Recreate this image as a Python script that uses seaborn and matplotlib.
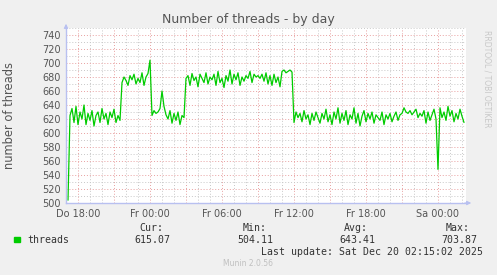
import numpy as np
import pandas as pd
import matplotlib
matplotlib.use("Agg")
import matplotlib.pyplot as plt
from matplotlib.ticker import MultipleLocator, FuncFormatter
import seaborn as sns

# ---- data (10-minute samples starting Thu 17:10) ----
start_hour = 17 + 10 / 60.0
step_hours = 10 / 60.0
seg_a = [504, 625, 635, 615, 638, 612, 630, 620, 640, 612, 628, 618, 632, 610,
         625, 630, 615, 635, 620, 628, 612, 630, 622, 634, 615, 625, 618]
seg_b = [672, 680, 675, 668, 682, 676, 684, 670, 678, 672, 686, 668, 680, 685, 704]
seg_c = [625, 632, 628, 630, 635, 660, 638, 626, 620, 632, 614, 628, 618, 630,
         612, 625, 622]
seg_d = [678, 682, 668, 685, 675, 680, 666, 684, 678, 672, 686, 670, 680, 676,
         684, 668, 688, 672, 678, 665, 682, 674, 690, 670, 684, 676, 686, 668,
         680, 674, 682, 678, 688, 672, 684, 680, 682, 678, 684, 674, 686, 670,
         682, 668, 684, 672, 680, 666, 688, 690, 686, 688, 690, 687]
seg_e = [615, 630, 622, 628, 616, 632, 620, 626, 612, 628, 618, 630, 622, 614,
         628, 620, 634, 616, 626, 612, 630, 620, 636, 614, 628, 618, 632, 612,
         626, 620, 636, 614, 628, 610, 624, 632, 616, 628, 620, 630, 614, 626,
         622, 618, 630, 612, 626, 620, 628, 616, 624, 630, 618, 626, 628, 636,
         630, 628, 632, 626, 630, 634, 622, 628, 624, 632, 614, 630, 618, 626,
         634, 620, 548, 636, 622, 630, 618, 638, 624, 632, 616, 628, 620, 634,
         624, 615]
values = seg_a + seg_b + seg_c + seg_d + seg_e
hours = start_hour + step_hours * np.arange(len(values))
df = pd.DataFrame({"hour": hours, "threads": values})

day_names = ["Do", "Fr", "Sa"]
series_name = "threads"
legend_heads = ["Cur:", "Min:", "Avg:", "Max:"]
legend_vals = ["615.07", "504.11", "643.41", "703.87"]
title = "Number of threads - by day"
ylabel = "number of threads"
last_update = "Last update: Sat Dec 20 02:15:02 2025"
footer = "Munin 2.0.56"
side_text = "RRDTOOL / TOBI OETIKER"

# ---- figure ----
sns.set_style("white")
plt.rcParams["font.family"] = ["DejaVu Sans"]
W, H = 497, 275
fig = plt.figure(figsize=(W / 100, H / 100), dpi=100, facecolor="#F0F0F0")
ax = fig.add_axes([66 / W, 72 / H, 400 / W, 175 / H])
ax.set_facecolor("white")

sns.lineplot(data=df, x="hour", y="threads", ax=ax, color="#00CC00",
             linewidth=0.9, legend=False)

ax.set_xlim(17, 17 + 400 / 12)
ax.set_ylim(500, 750)

ax.xaxis.set_major_locator(MultipleLocator(3))
ax.xaxis.set_minor_locator(MultipleLocator(1))
ax.yaxis.set_major_locator(MultipleLocator(20))
ax.yaxis.set_minor_locator(MultipleLocator(10))


def xfmt(v, pos):
    h = int(round(v))
    if h % 6 != 0:
        return ""
    d = h // 24
    return f"{day_names[d]} {h % 24:02d}:00"


ax.xaxis.set_major_formatter(FuncFormatter(xfmt))
ax.yaxis.set_major_formatter(FuncFormatter(lambda v, p: f"{int(v)}" if v < 745 else ""))

ax.grid(which="minor", color="#C8C8C8", linestyle=(0, (1, 2)), linewidth=0.7)
ax.grid(which="major", color="#E8A0A0", linestyle=(0, (1, 2)), linewidth=0.7)
ax.set_axisbelow(True)

ax.tick_params(axis="both", which="major", labelsize=7, labelcolor="#555555",
               length=2, color="#999999", pad=2)
ax.tick_params(axis="both", which="minor", length=1, color="#BBBBBB")
ax.set_xlabel("")
ax.set_ylabel(ylabel, fontsize=8.3, color="#555555")
ax.yaxis.set_label_coords(-50 / 400, 0.5)

for s in ["top", "right"]:
    ax.spines[s].set_visible(False)
for s in ["left", "bottom"]:
    ax.spines[s].set_color("#B8C0F0")
    ax.spines[s].set_linewidth(1.0)

# axis arrows
ax.annotate("", xy=(0, 1.04), xytext=(0, 0.98), xycoords="axes fraction",
            arrowprops=dict(arrowstyle="-|>", color="#B8C0F0", lw=0.8,
                            mutation_scale=6), annotation_clip=False)
ax.annotate("", xy=(1.02, 0), xytext=(0.99, 0), xycoords="axes fraction",
            arrowprops=dict(arrowstyle="-|>", color="#B8C0F0", lw=0.8,
                            mutation_scale=6), annotation_clip=False)

fig.text(248 / W, 1 - 19 / H, title, ha="center", va="center",
         fontsize=9, color="#555555")
fig.text(487 / W, 1 - 30 / H, side_text, ha="center", va="top",
         rotation=270, fontsize=5.5, color="#C8C8C8")

mono = "DejaVu Sans Mono"
fig.patches.append(plt.Rectangle((14 / W, 1 - 242 / H), 6 / W, 5 / H,
                                 transform=fig.transFigure, color="#00CC00"))
fig.text(27 / W, 1 - 240 / H, series_name, ha="left", va="center",
         family=mono, fontsize=7.1, color="#333333")
head_right = [163, 267, 368, 470]
val_right = [170, 273, 375, 477]
for hd, vl, hx, vx in zip(legend_heads, legend_vals, head_right, val_right):
    fig.text(hx / W, 1 - 228 / H, hd, ha="right", va="center",
             family=mono, fontsize=7.1, color="#333333")
    fig.text(vx / W, 1 - 240 / H, vl, ha="right", va="center",
             family=mono, fontsize=7.1, color="#333333")
fig.text(483 / W, 1 - 252 / H, last_update, ha="right", va="center",
         family=mono, fontsize=7.1, color="#333333")
fig.text(248 / W, 1 - 264 / H, footer, ha="center", va="center",
         fontsize=5.5, color="#C0C0C0")

fig.savefig("out.png", dpi=100, facecolor=fig.get_facecolor())
